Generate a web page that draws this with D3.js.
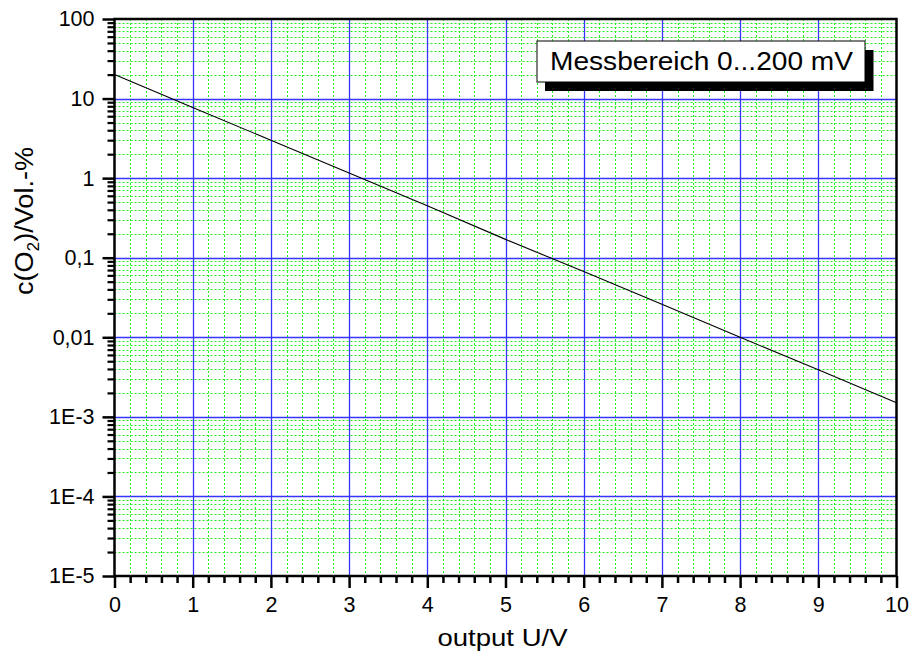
<!DOCTYPE html>
<html><head><meta charset="utf-8">
<script src="https://cdn.jsdelivr.net/npm/d3@7"></script>
<style>
html,body{margin:0;padding:0;background:#fff;}
svg{display:block;font-family:"Liberation Sans",Arial,sans-serif;}
</style></head>
<body>
<svg id="chart" width="914" height="657"></svg>
<script>
// ---- data ----
const outputU = [0,1,2,3,4,5,6,7,8,9,10];
const concentration = [20, 7.7, 3.0, 1.16, 0.45, 0.17, 0.067, 0.026, 0.010, 0.0039, 0.0015];
const xTickValues = [0,1,2,3,4,5,6,7,8,9,10];
const xTickLabels = ["0","1","2","3","4","5","6","7","8","9","10"];
const yTickValues = [100,10,1,0.1,0.01,1e-3,1e-4,1e-5];
const yTickLabels = ["100","10","1","0,1","0,01","1E-3","1E-4","1E-5"];
const legendText = "Messbereich 0...200 mV";
const xTitle = "output U/V";

// ---- layout ----
const X0 = 114.5, X1 = 896.5, Y0 = 576, Y1 = 19;
const svg = d3.select("#chart");
const x = d3.scaleLinear().domain([0,10]).range([X0, X1]);
const y = d3.scaleLog().domain([1e-5,100]).range([Y0, Y1]);

// minor values
const xMinor = d3.range(0, 10.001, 0.2).map(v => +v.toFixed(1)).filter(v => Math.abs(v - Math.round(v)) > 1e-6);
const yMinor = [];
for (let e = -5; e < 2; e++) for (let k = 2; k <= 9; k++) yMinor.push(k * Math.pow(10, e));

const g = svg.append("g");

// minor grid (green dotted)
g.append("g").selectAll("line").data(xMinor).join("line")
  .attr("x1", d => Math.round(x(d)) + 0.5).attr("x2", d => Math.round(x(d)) + 0.5)
  .attr("y1", Y1).attr("y2", Y0)
  .attr("stroke", "#22ee22").attr("stroke-width", 1).attr("stroke-dasharray", "2,2");
g.append("g").selectAll("line").data(yMinor).join("line")
  .attr("y1", d => Math.round(y(d)) + 0.5).attr("y2", d => Math.round(y(d)) + 0.5)
  .attr("x1", X0).attr("x2", X1)
  .attr("stroke", "#22ee22").attr("stroke-width", 1).attr("stroke-dasharray", "2,2");

// major grid (blue)
g.append("g").selectAll("line").data(xTickValues.slice(1, -1)).join("line")
  .attr("x1", d => Math.round(x(d)) + 0.5).attr("x2", d => Math.round(x(d)) + 0.5)
  .attr("y1", Y1).attr("y2", Y0)
  .attr("stroke", "#3535ff").attr("stroke-width", 1.3);
g.append("g").selectAll("line").data(yTickValues.slice(1, -1)).join("line")
  .attr("y1", d => Math.round(y(d)) + 0.5).attr("y2", d => Math.round(y(d)) + 0.5)
  .attr("x1", X0).attr("x2", X1)
  .attr("stroke", "#3535ff").attr("stroke-width", 1.3);

// data line
const line = d3.line().x((d, i) => x(outputU[i])).y(d => y(d));
g.append("path").datum(concentration)
  .attr("d", line).attr("fill", "none").attr("stroke", "#000").attr("stroke-width", 1.1);

// frame
g.append("rect").attr("x", X0).attr("y", Y1).attr("width", X1 - X0).attr("height", Y0 - Y1)
  .attr("fill", "none").attr("stroke", "#000").attr("stroke-width", 2.5);

const FONT = "Liberation Sans, Arial, sans-serif";

// x axis
const xAxis = d3.axisBottom(x).tickValues(xTickValues)
  .tickFormat((d, i) => xTickLabels[i]).tickSize(12).tickPadding(9);
const xa = g.append("g").attr("transform", `translate(0,${Y0})`).call(xAxis);
xa.select(".domain").remove();
xa.selectAll(".tick line").attr("stroke", "#000").attr("stroke-width", 2.5);
xa.selectAll(".tick text").attr("font-size", 21.5).attr("fill", "#000").attr("font-family", FONT);
const xMinorAxis = d3.axisBottom(x).tickValues(xMinor).tickFormat("").tickSize(7);
const xm = g.append("g").attr("transform", `translate(0,${Y0})`).call(xMinorAxis);
xm.select(".domain").remove();
xm.selectAll(".tick line").attr("stroke", "#000").attr("stroke-width", 2.5);

// y axis
const yAxis = d3.axisLeft(y).tickValues(yTickValues)
  .tickFormat((d, i) => yTickLabels[i]).tickSize(12).tickPadding(8);
const ya = g.append("g").attr("transform", `translate(${X0},0)`).call(yAxis);
ya.select(".domain").remove();
ya.selectAll(".tick line").attr("stroke", "#000").attr("stroke-width", 2.5);
ya.selectAll(".tick text").attr("font-size", 21.5).attr("fill", "#000").attr("font-family", FONT);
const yMinorAxis = d3.axisLeft(y).tickValues(yMinor).tickFormat("").tickSize(7);
const ym = g.append("g").attr("transform", `translate(${X0},0)`).call(yMinorAxis);
ym.select(".domain").remove();
ym.selectAll(".tick line").attr("stroke", "#000").attr("stroke-width", 2.2);

// axis titles
svg.append("text").attr("x", (X0 + X1) / 2 - 3).attr("y", 646)
  .attr("text-anchor", "middle").attr("font-size", 24)
  .attr("textLength", 130).attr("lengthAdjust", "spacingAndGlyphs")
  .text(xTitle);

const yt = svg.append("text").attr("transform", "translate(33,221) rotate(-90)")
  .attr("text-anchor", "middle").attr("font-size", 25)
  .attr("textLength", 148).attr("lengthAdjust", "spacingAndGlyphs");
yt.append("tspan").text("c(O");
yt.append("tspan").attr("font-size", 16).attr("dy", 6).text("2");
yt.append("tspan").attr("dy", -6).text(")/Vol.-%");

// legend
const lg = svg.append("g");
lg.append("rect").attr("x", 545).attr("y", 50).attr("width", 328.5).attr("height", 41).attr("fill", "#000");
lg.append("rect").attr("x", 537).attr("y", 41).attr("width", 328).attr("height", 41)
  .attr("fill", "#fff").attr("stroke", "#000").attr("stroke-width", 1);
lg.append("text").attr("x", 550).attr("y", 69.5).attr("font-size", 25)
  .attr("textLength", 303).attr("lengthAdjust", "spacingAndGlyphs")
  .text(legendText);
</script>
</body></html>
